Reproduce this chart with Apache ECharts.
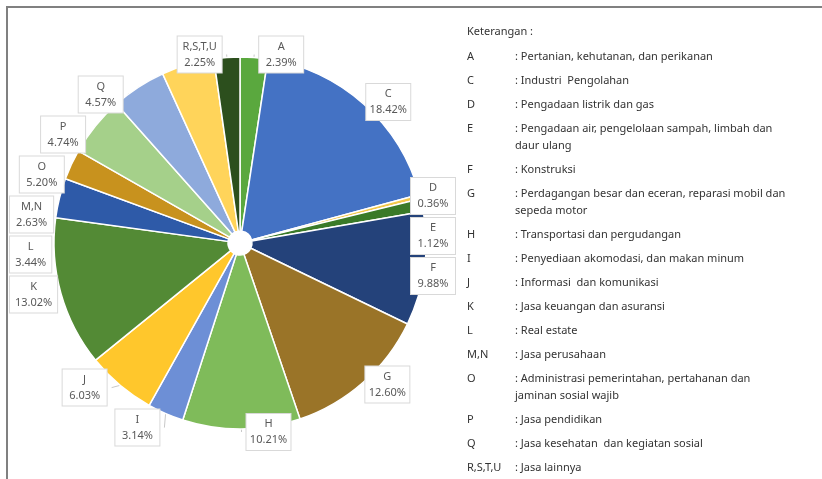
<!DOCTYPE html>
<html>
<head>
<meta charset="utf-8">
<script src="https://cdn.jsdelivr.net/npm/echarts@6/dist/echarts.min.js"></script>
<style>
html,body{margin:0;padding:0;background:#fff;}
#chart{width:822px;height:479px;}
</style>
</head>
<body>
<div id="chart"></div>
<script>
var categories = ['A','C','D','E','F','G','H','I','J','K','L','M,N','O','P','Q','R,S,T,U'];
var values = [2.39,18.42,0.36,1.12,9.88,12.60,10.21,3.14,6.03,13.02,3.44,2.63,5.20,4.74,4.57,2.25];
var colors = ['#5aa83e','#4472c4','#f2c84b','#3a7a28','#24427a','#9a7428','#7fbb5a','#6d8fd6','#ffc72c','#538a35','#2e5aa8','#c8921e','#a5d08a','#8eaadc','#ffd45a','#2c4f1d'];
var legendTitle = 'Keterangan :';
var descriptions = [
  ': Pertanian, kehutanan, dan perikanan',
  ': Industri  Pengolahan',
  ': Pengadaan listrik dan gas',
  ': Pengadaan air, pengelolaan sampah, limbah dan\ndaur ulang',
  ': Konstruksi',
  ': Perdagangan besar dan eceran, reparasi mobil dan\nsepeda motor',
  ': Transportasi dan pergudangan',
  ': Penyediaan akomodasi, dan makan minum',
  ': Informasi  dan komunikasi',
  ': Jasa keuangan dan asuransi',
  ': Real estate',
  ': Jasa perusahaan',
  ': Administrasi pemerintahan, pertahanan dan\njaminan sosial wajib',
  ': Jasa pendidikan',
  ': Jasa kesehatan  dan kegiatan sosial',
  ': Jasa lainnya'
];

var font = '"Noto Sans", "Open Sans", sans-serif';
var graphics = [
  {type:'rect', shape:{x:7,y:7,width:900,height:600}, style:{fill:'none', stroke:'#808080', lineWidth:2}, silent:true},
  {type:'text', x:467, y:23, z:100, style:{text:legendTitle, font:'11px ' + font, fill:'#333', lineHeight:17}}
];
var y = 48;
for (var i = 0; i < categories.length; i++) {
  var lines = descriptions[i].split('\n').length;
  graphics.push({type:'text', x:467, y:y, z:100, style:{text:categories[i], font:'11px ' + font, fill:'#333', lineHeight:17, verticalAlign:'top'}});
  graphics.push({type:'text', x:515, y:y, z:100, style:{text:descriptions[i], font:'11px ' + font, fill:'#333', lineHeight:17, verticalAlign:'top'}});
  y += 24 + 17*(lines-1);
}

var chart = echarts.init(document.getElementById('chart'));
chart.setOption({
  animation:false,
  graphic: graphics,
  series:[{
    type:'pie',
    center:[240,243],
    radius:[12,186],
    startAngle:90,
    clockwise:true,
    avoidLabelOverlap:true,
    data: categories.map(function(c,i){return {name:c, value:values[i], itemStyle:{color:colors[i]}};}),
    itemStyle:{borderColor:'#ffffff', borderWidth:1.5},
    label:{
      show:true,
      position:'outside',
      overflow:'none',
      formatter:function(p){return '{a|' + p.name + '}\n{a|' + p.value.toFixed(2) + '%}';},
      rich:{a:{width:38, align:'center', fontFamily:font, fontSize:11, color:'#595959', lineHeight:16}},
      backgroundColor:'#ffffff',
      borderColor:'#d9d9d9',
      borderWidth:1,
      padding:[2,3]
    },
    labelLayout:function(params){
      var r = params.labelRect;
      var over = r.x + r.width - 456;
      if (over > 0) { return {dx: -over}; }
      return {};
    },
    labelLine:{show:true, length:3, length2:0, lineStyle:{color:'#c8c8c8'}}
  }]
});
</script>
</body>
</html>
